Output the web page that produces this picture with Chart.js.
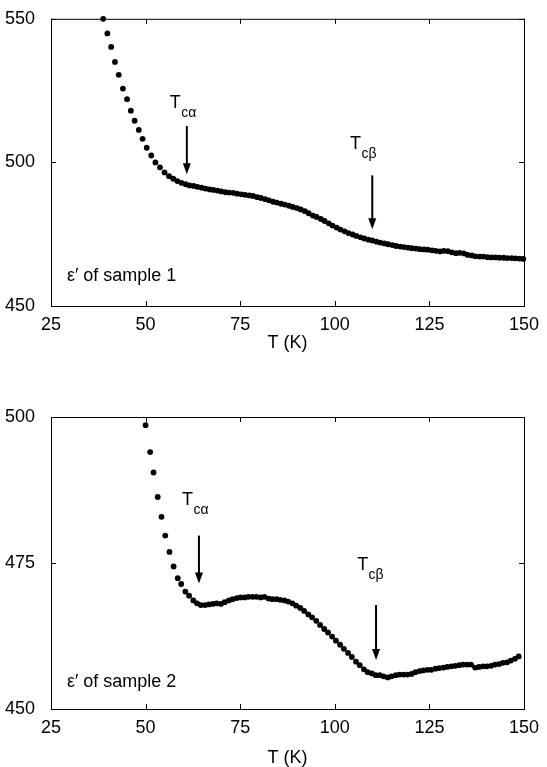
<!DOCTYPE html>
<html>
<head>
<meta charset="utf-8">
<script src="https://cdn.jsdelivr.net/npm/chart.js@4"></script>
<style>
  body { margin: 0; background: #fff; }
  #wrap { position: relative; width: 547px; height: 767px; }
  #chart1 { position: absolute; left: 0; top: 0; }
  #chart2 { position: absolute; left: 0; top: 370px; }
</style>
</head>
<body>
<div id="wrap">
  <canvas id="chart1" width="547" height="370"></canvas>
  <canvas id="chart2" width="547" height="397"></canvas>
</div>
<script>
// sample 1 : eps' vs T
const temp1 = [38.8, 39.9, 40.9, 41.9, 42.9, 44.0, 45.1, 46.1, 47.1, 48.2, 49.2, 50.3, 51.5, 52.6, 53.8, 55.0,
  56.2, 57.3, 58.4, 59.5, 60.6, 61.6, 62.7, 63.7, 64.8, 65.8, 66.9, 67.9, 69.0, 70.0, 71.1, 72.1, 73.2, 74.2,
  75.3, 76.3, 77.4, 78.4, 79.5, 80.5, 81.6, 82.6, 83.7, 84.7, 85.8, 86.8, 87.9, 88.9, 90.0, 91.0, 92.1, 93.1,
  94.2, 95.2, 96.3, 97.3, 98.4, 99.4, 100.5, 101.5, 102.6, 103.6, 104.7, 105.7, 106.8, 107.8, 108.9, 109.9,
  111.0, 112.0, 113.1, 114.1, 115.2, 116.2, 117.3, 118.3, 119.4, 120.4, 121.5, 122.5, 123.6, 124.6, 125.7,
  126.7, 127.8, 128.8, 129.9, 130.9, 132.0, 133.0, 134.1, 135.1, 136.2, 137.2, 138.3, 139.3, 140.4, 141.4,
  142.5, 143.5, 144.6, 145.6, 146.7, 147.7, 148.8, 149.8];
const eps1 = [550.0, 544.9, 540.2, 535.0, 530.5, 525.7, 522.0, 518.0, 514.5, 511.3, 508.2, 505.1, 502.4, 500.0, 498.3, 496.5,
  495.2, 494.3, 493.5, 492.9, 492.4, 492.0, 491.8, 491.5, 491.2, 490.9, 490.6, 490.4, 490.2, 489.9, 489.6, 489.5, 489.4, 489.1,
  488.9, 488.7, 488.5, 488.3, 487.9, 487.6, 487.2, 486.8, 486.3, 486.0, 485.6, 485.3, 484.9, 484.5, 484.1, 483.6, 483.0, 482.3,
  481.5, 481.0, 480.3, 479.6, 478.8, 478.0, 477.3, 476.6, 476.0, 475.4, 474.9, 474.4, 473.9, 473.5, 473.1, 472.8,
  472.4, 472.1, 471.8, 471.5, 471.2, 470.9, 470.7, 470.5, 470.3, 470.1, 470.0, 469.8, 469.7, 469.6, 469.4,
  469.2, 469.0, 469.2, 469.1, 468.7, 468.4, 468.5, 468.3, 467.8, 467.6, 467.3, 467.2, 467.2, 467.0, 466.9,
  466.9, 466.8, 466.8, 466.7, 466.7, 466.6, 466.5, 466.4];

// sample 2
const temp2 = [50.0, 51.2, 52.1, 53.2, 54.2, 55.2, 56.3, 57.4, 58.5, 59.4, 60.5, 61.5, 62.6, 63.6, 64.6, 65.7, 66.7,
  67.8, 68.8, 69.9, 70.9, 72.0, 73.0, 74.1, 75.1, 76.2, 77.2, 78.3, 79.3, 80.4, 81.4, 82.5, 83.5, 84.6, 85.6,
  86.7, 87.7, 88.8, 89.8, 90.9, 91.9, 93.0, 94.0, 95.1, 96.1, 97.2, 98.2, 99.3, 100.3, 101.4, 102.4, 103.5,
  104.5, 105.6, 106.6, 107.7, 108.7, 109.8, 110.8, 111.9, 112.9, 114.0, 115.0, 116.1, 117.1, 118.2, 119.2,
  120.3, 121.3, 122.4, 123.4, 124.5, 125.5, 126.6, 127.6, 128.7, 129.7, 130.8, 131.8, 132.9, 133.9, 135.0,
  136.0, 137.1, 138.1, 139.2, 140.2, 141.3, 142.3, 143.4, 144.4, 145.5, 146.5, 147.6, 148.6];
const eps2 = [498.6, 494.0, 490.5, 486.3, 482.9, 479.7, 476.9, 474.4, 472.4, 471.4, 470.1, 469.4, 468.6, 468.1, 467.8, 467.8, 467.9,
  468.0, 468.1, 468.0, 468.3, 468.6, 468.8, 469.0, 469.1, 469.1, 469.2, 469.2, 469.2, 469.1, 469.2, 468.9, 468.8, 468.8, 468.7,
  468.6, 468.4, 468.1, 467.7, 467.3, 466.8, 466.2, 465.7, 465.1, 464.4, 463.7, 463.1, 462.4, 461.7, 461.0, 460.3, 459.6,
  458.9, 458.1, 457.5, 456.8, 456.3, 456.1, 455.8, 455.8, 455.6, 455.4, 455.6, 455.8, 455.9, 455.9, 455.9,
  456.0, 456.3, 456.5, 456.6, 456.7, 456.7, 456.9, 457.0, 457.1, 457.2, 457.3, 457.4, 457.5, 457.6, 457.6,
  457.6, 457.1, 457.2, 457.3, 457.3, 457.4, 457.6, 457.7, 457.9, 458.0, 458.3, 458.6, 459.0];

const xTicks = [25, 50, 75, 100, 125, 150];
const yTicks1 = [450, 500, 550];
const yTicks2 = [450, 475, 500];

// transition markers: [sub, label T, label eps, arrow T, arrow from, arrow to]
const marks1 = [['cα', 56.4, 518.8, 60.9, 512.7, 495.9], ['cβ', 104.0, 504.5, 109.9, 495.5, 476.7]];
const marks2 = [['cα', 59.6, 484.9, 64.1, 479.7, 471.5], ['cβ', 105.9, 473.8, 110.9, 467.8, 458.4]];

const FONT = "'Liberation Sans', Arial, sans-serif";

// box with inward ticks + the T_c notes
const frameNotes = {
    id: 'frameNotes',
    afterDraw(chart, args, opts) {
        const ctx = chart.ctx;
        const a = chart.chartArea;
        const x = chart.scales.x, y = chart.scales.y;
        ctx.save();
        ctx.strokeStyle = '#000';
        ctx.lineWidth = 1;
        ctx.strokeRect(a.left + 0.5, a.top + 0.5, a.right - a.left, a.bottom - a.top);
        ctx.beginPath();
        x.ticks.forEach(t => {
            const px = Math.round(x.getPixelForValue(t.value)) + 0.5;
            ctx.moveTo(px, a.bottom); ctx.lineTo(px, a.bottom - 5);
            ctx.moveTo(px, a.top); ctx.lineTo(px, a.top + 5);
        });
        y.ticks.forEach(t => {
            const py = Math.round(y.getPixelForValue(t.value)) + 0.5;
            ctx.moveTo(a.left, py); ctx.lineTo(a.left + 5, py);
            ctx.moveTo(a.right, py); ctx.lineTo(a.right - 5, py);
        });
        ctx.stroke();

        ctx.fillStyle = '#000';
        ctx.textBaseline = 'alphabetic';
        ctx.textAlign = 'left';
        opts.marks.forEach(m => {
            const lx = x.getPixelForValue(m[1]), ly = y.getPixelForValue(m[2]);
            ctx.font = '18px ' + FONT;
            ctx.fillText('T', lx, ly);
            const w = ctx.measureText('T').width;
            ctx.font = '14px ' + FONT;
            ctx.fillText(m[0], lx + w + 0.5, ly + 9);
            const ax = x.getPixelForValue(m[3]);
            const y0 = y.getPixelForValue(m[4]), y1 = y.getPixelForValue(m[5]);
            ctx.lineWidth = 2;
            ctx.beginPath();
            ctx.moveTo(ax, y0); ctx.lineTo(ax, y1 - 9);
            ctx.stroke();
            ctx.beginPath();
            ctx.moveTo(ax - 4, y1 - 11); ctx.lineTo(ax + 4, y1 - 11); ctx.lineTo(ax, y1);
            ctx.closePath();
            ctx.fill();
        });
        ctx.font = '18px ' + FONT;
        ctx.textBaseline = 'middle';
        ctx.fillText(opts.label, x.getPixelForValue(opts.labelAt[0]), y.getPixelForValue(opts.labelAt[1]));
        ctx.restore();
    }
};

function makeChart(id, temps, eps, yTicks, marks, label, labelAt, top, axisH, titlePad) {
    const ctx = document.getElementById(id).getContext('2d');
    return new Chart(ctx, {
        type: 'scatter',
        data: {
            datasets: [{
                data: temps.map((t, i) => ({ x: t, y: eps[i] })),
                backgroundColor: '#000',
                borderWidth: 0,
                pointRadius: 2.9,
                clip: false
            }]
        },
        options: {
            responsive: false,
            animation: false,
            events: [],
            layout: { padding: { left: 0, right: 23, top: top, bottom: 0 } },
            plugins: {
                legend: { display: false },
                tooltip: { enabled: false },
                frameNotes: { marks: marks, label: label, labelAt: labelAt }
            },
            scales: {
                x: {
                    type: 'linear',
                    min: xTicks[0], max: xTicks[xTicks.length - 1],
                    afterBuildTicks: s => { s.ticks = xTicks.map(v => ({ value: v })); },
                    afterFit: s => { s.height = axisH; },
                    grid: { display: false },
                    border: { display: false },
                    ticks: { color: '#000', padding: 0, maxRotation: 0, font: { family: FONT, size: 18 } },
                    title: { display: true, text: 'T (K)', color: '#000',
                        font: { family: FONT, size: 18, lineHeight: 1 }, padding: { top: 0, bottom: titlePad } }
                },
                y: {
                    type: 'linear',
                    min: yTicks[0], max: yTicks[yTicks.length - 1],
                    afterBuildTicks: s => { s.ticks = yTicks.map(v => ({ value: v })); },
                    afterFit: s => { s.width = 51; },
                    grid: { display: false },
                    border: { display: false },
                    ticks: { color: '#000', padding: 8, font: { family: FONT, size: 18 } }
                }
            }
        },
        plugins: [frameNotes]
    });
}

const chart1 = makeChart('chart1', temp1, eps1, yTicks1, marks1, 'ε′ of sample 1', [29.2, 460.6], 14, 64, 18);
const chart2 = makeChart('chart2', temp2, eps2, yTicks2, marks2, 'ε′ of sample 2', [29.2, 454.7], 47, 58, 0);
</script>
</body>
</html>
